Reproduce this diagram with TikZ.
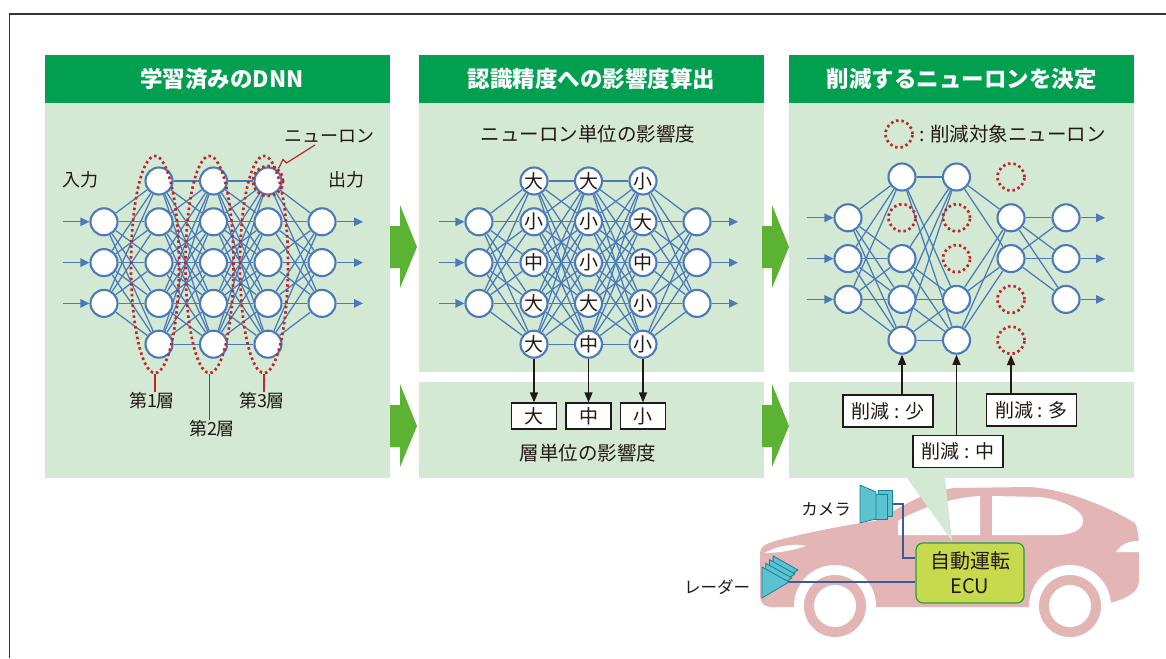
\documentclass[tikz,border=0pt]{standalone}
\usepackage{fontspec}
\setmainfont{Noto Sans CJK JP}
\usetikzlibrary{arrows.meta,shapes.geometric,calc}

\definecolor{hdrgreen}{RGB}{0,160,80}
\definecolor{panelgreen}{RGB}{211,233,211}
\definecolor{arrowgreen}{RGB}{92,178,50}
\definecolor{nnblue}{RGB}{74,122,186}
\definecolor{cutred}{RGB}{192,39,45}
\definecolor{txt}{RGB}{35,24,21}
\definecolor{carpink}{RGB}{227,181,181}
\definecolor{ecufill}{RGB}{199,217,76}
\definecolor{eculine}{RGB}{34,160,70}
\definecolor{sensor}{RGB}{92,194,208}
\definecolor{sensordark}{RGB}{20,130,150}
\definecolor{wirec}{RGB}{60,90,150}
\definecolor{framec}{RGB}{55,50,50}

\pgfdeclarelayer{back}
\pgfdeclarelayer{edges}
\pgfsetlayers{back,edges,main}

\begin{document}
\begin{tikzpicture}[x=1pt,y=-1pt,
  neuron/.style={circle,draw=nnblue,line width=2.1pt,fill=white,minimum size=27pt,
    inner sep=0pt,text=txt,font=\fontsize{19}{19}\selectfont},
  cutn/.style={circle,draw=cutred,line width=2.7pt,dash pattern=on 2.5pt off 2.9pt,
    minimum size=27pt,inner sep=0pt},
  link/.style={draw=nnblue,line width=1.25pt},
  ioarrow/.style={draw=nnblue,line width=1.2pt,-{Triangle[length=9pt,width=8.5pt]}},
  lbl/.style={text=txt,font=\fontsize{18}{18}\selectfont,inner sep=0pt},
  hdrtext/.style={text=white,font=\fontsize{22.5}{22.5}\selectfont\bfseries,inner sep=0pt},
  layerloop/.style={ellipse,draw=cutred,line width=2.7pt,dash pattern=on 2.5pt off 2.9pt,
    minimum width=48pt,minimum height=217pt,inner sep=0pt},
  redline/.style={draw=cutred,line width=1.2pt},
  blackarrow/.style={draw=txt,line width=1.3pt,-{Triangle[length=10pt,width=8pt]}},
  valbox/.style={draw=txt,line width=1.2pt,fill=white,minimum width=45pt,minimum height=26pt,
    inner sep=0pt,text=txt,font=\fontsize{19}{19}\selectfont},
  cutbox/.style={valbox,minimum width=90pt,minimum height=32pt},
  wire/.style={draw=wirec,line width=1.4pt},
  sens/.style={fill=sensor,draw=sensordark,line width=0.8pt,line join=round},
  ecu/.style={draw=eculine,line width=1.2pt,fill=ecufill,rounded corners=7pt,
    minimum width=108pt,minimum height=60pt,align=center,text=txt,
    font=\fontsize{20}{25}\selectfont}
]
\useasboundingbox (0,0) rectangle (1166,658);

% ---------- frame ----------
\draw[framec,line width=1.2pt] (9.5,658) -- (9.5,14) -- (1166,14);

% ---------- panels, headers and step arrows ----------
\begin{pgfonlayer}{back}
  \fill[hdrgreen] (45,55) rectangle (390,103);
  \fill[panelgreen] (45,103) rectangle (390,478);
  \fill[hdrgreen] (419,55) rectangle (764,103);
  \fill[panelgreen] (419,103) rectangle (764,372);
  \fill[panelgreen] (419,382) rectangle (764,478);
  \fill[hdrgreen] (789,55) rectangle (1134,103);
  \fill[panelgreen] (789,103) rectangle (1134,372);
  \fill[panelgreen] (789,382) rectangle (1134,478);
  \foreach \dx in {0,372} \foreach \dy in {0,179} {
    \fill[arrowgreen] (390+\dx,226+\dy) -- (400+\dx,226+\dy) -- (400+\dx,205+\dy)
      -- (417+\dx,247+\dy) -- (400+\dx,288+\dy) -- (400+\dx,268+\dy)
      -- (390+\dx,268+\dy) -- cycle;
  }
\end{pgfonlayer}

\node[hdrtext] (h1) at (222,79) {学習済みのDNN};
\node[hdrtext] (h2) at (591.5,79) {認識精度への影響度算出};
\node[hdrtext] (h3) at (961.5,79) {削減するニューロンを決定};

% ================= panel 1: trained DNN =================
\foreach \k in {1,2,3} {
  \node[neuron] (a-0-\k) at (104,181+40.8*\k) {};
  \node[neuron] (a-4-\k) at (322,181+40.8*\k) {};
  \coordinate (a-in-\k) at (63,181+40.8*\k);
  \coordinate (a-out-\k) at (363,181+40.8*\k);
}
\foreach \i/\x in {1/159,2/213.5,3/268}
  \foreach \k in {0,...,4}
    \node[neuron] (a-\i-\k) at (\x,181+40.8*\k) {};

\begin{pgfonlayer}{edges}
  \foreach \k in {1,2,3} {
    \draw[ioarrow] (a-in-\k) -- (a-0-\k);
    \draw[ioarrow] (a-4-\k) -- (a-out-\k);
    \foreach \m in {0,...,4} {
      \draw[link] (a-0-\k) -- (a-1-\m);
      \draw[link] (a-3-\m) -- (a-4-\k);
    }
  }
  \foreach \k in {0,...,4} \foreach \m in {0,...,4} {
    \draw[link] (a-1-\k) -- (a-2-\m);
    \draw[link] (a-2-\k) -- (a-3-\m);
  }
\end{pgfonlayer}

\node[layerloop] (e1) at (155,264.5) {};
\node[layerloop] (e2) at (209.5,264.5) {};
\node[layerloop] (e3) at (264,264.5) {};
\node[cutn,minimum size=30pt] (hl) at (a-3-0) {};

\node[lbl] (inlab) at (80,180) {入力};
\node[lbl] (outlab) at (346,180) {出力};
\node[lbl] (nlab) at (329,136) {ニューロン};
\node[lbl] (l1) at (152,401) {第1層};
\node[lbl] (l2) at (212,429) {第2層};
\node[lbl] (l3) at (262,401) {第3層};
\draw[redline] (e1.south) -- (e1.south |- l1.north);
\draw[redline] (e2.south) -- (e2.south |- l2.north);
\draw[redline] (e3.south) -- (e3.south |- l3.north);
\draw[redline] (hl.50) -- (283,159.5) -- (286.5,163) -- ([xshift=-14pt,yshift=-2pt]nlab.south);

% ================= panel 2: influence on accuracy =================
\node[lbl,font=\fontsize{19.5}{19.5}\selectfont] (t2a) at (588,134) {ニューロン単位の影響度};
\foreach \k in {1,2,3} {
  \node[neuron] (b-0-\k) at (479,181+40.8*\k) {};
  \node[neuron] (b-4-\k) at (697,181+40.8*\k) {};
  \coordinate (b-in-\k) at (439,181+40.8*\k);
  \coordinate (b-out-\k) at (738,181+40.8*\k);
}
\foreach \k/\t in {0/大,1/小,2/中,3/大,4/大}
  \node[neuron] (b-1-\k) at (534,181+40.8*\k) {\t};
\foreach \k/\t in {0/大,1/小,2/小,3/大,4/中}
  \node[neuron] (b-2-\k) at (588.5,181+40.8*\k) {\t};
\foreach \k/\t in {0/小,1/大,2/中,3/小,4/小}
  \node[neuron] (b-3-\k) at (643,181+40.8*\k) {\t};

\begin{pgfonlayer}{edges}
  \foreach \k in {1,2,3} {
    \draw[ioarrow] (b-in-\k) -- (b-0-\k);
    \draw[ioarrow] (b-4-\k) -- (b-out-\k);
    \foreach \m in {0,...,4} {
      \draw[link] (b-0-\k) -- (b-1-\m);
      \draw[link] (b-3-\m) -- (b-4-\k);
    }
  }
  \foreach \k in {0,...,4} \foreach \m in {0,...,4} {
    \draw[link] (b-1-\k) -- (b-2-\m);
    \draw[link] (b-2-\k) -- (b-3-\m);
  }
\end{pgfonlayer}

\node[valbox] (bb-1) at (534,416) {大};
\node[valbox] (bb-2) at (588.5,416) {中};
\node[valbox] (bb-3) at (643,416) {小};
\draw[blackarrow] (b-1-4) -- (bb-1);
\draw[blackarrow] (b-2-4) -- (bb-2);
\draw[blackarrow] (b-3-4) -- (bb-3);
\node[lbl,font=\fontsize{19.5}{19.5}\selectfont] (t2b) at (588,453) {層単位の影響度};

% ================= panel 3: neurons to remove =================
\node[cutn] (leg) at (899,134) {};
\node[lbl,font=\fontsize{19.5}{19.5}\selectfont,anchor=west] (legt) at ([xshift=5pt]leg.east) {: 削減対象ニューロン};

\foreach \k in {1,2,3} {
  \node[neuron] (c-0-\k) at (848,177+40.8*\k) {};
  \node[neuron] (c-4-\k) at (1066,177+40.8*\k) {};
  \coordinate (c-in-\k) at (807,177+40.8*\k);
  \coordinate (c-out-\k) at (1105,177+40.8*\k);
}
\foreach \k in {0,2,3,4} \node[neuron] (c-1-\k) at (902,177+40.8*\k) {};
\foreach \k in {1}       \node[cutn]   (c-1-\k) at (902,177+40.8*\k) {};
\foreach \k in {0,3,4}   \node[neuron] (c-2-\k) at (956.5,177+40.8*\k) {};
\foreach \k in {1,2}     \node[cutn]   (c-2-\k) at (956.5,177+40.8*\k) {};
\foreach \k in {1,2}     \node[neuron] (c-3-\k) at (1011,177+40.8*\k) {};
\foreach \k in {0,3,4}   \node[cutn]   (c-3-\k) at (1011,177+40.8*\k) {};

\begin{pgfonlayer}{edges}
  \foreach \k in {1,2,3} {
    \draw[ioarrow] (c-in-\k) -- (c-0-\k);
    \draw[ioarrow] (c-4-\k) -- (c-out-\k);
    \foreach \m in {0,2,3,4} \draw[link] (c-0-\k) -- (c-1-\m);
    \foreach \m in {1,2} \draw[link] (c-3-\m) -- (c-4-\k);
  }
  \foreach \k in {0,2,3,4} \foreach \m in {0,3,4} \draw[link] (c-1-\k) -- (c-2-\m);
  \foreach \k in {0,3,4} \foreach \m in {1,2} \draw[link] (c-2-\k) -- (c-3-\m);
\end{pgfonlayer}

\node[cutbox] (d-1) at (888,411) {削減 : 少};
\node[cutbox] (d-2) at (958,451.5) {削減 : 中};
\node[cutbox] (d-3) at (1031.5,410) {削減 : 多};
\draw[blackarrow] (d-1.north -| c-1-4) -- (c-1-4);
\draw[blackarrow] (d-2.north -| c-2-4) -- (c-2-4);
\draw[blackarrow] (d-3.north -| c-3-4) -- (c-3-4);

% ================= car with sensors and ECU =================
\fill[carpink] (770,607) .. controls (763,606) and (760,602) .. (760,596)
  -- (760,553) .. controls (760,547) and (765,544) .. (775,541)
  .. controls (805,533) and (845,525) .. (875,521)
  .. controls (900,508) and (925,490) .. (955,488)
  -- (1030,487) .. controls (1070,490) and (1110,508) .. (1135,523)
  .. controls (1139,530) and (1139,545) .. (1139,560)
  -- (1139,580) .. controls (1139,592) and (1128,598) .. (1110,603)
  -- (1100,607) -- cycle;
% side windows
\fill[white] (898,535) -- (898,521) .. controls (920,508) and (950,498) .. (980,496)
  -- (980,535) -- cycle;
\fill[white] (992,496) -- (1040,497) .. controls (1065,500) and (1085,512) .. (1083,522)
  .. controls (1082,530) and (1072,534) .. (1060,535) -- (992,535) -- cycle;
% head and tail lights
\fill[white] (764,553) .. controls (780,545) and (795,543) .. (806,546)
  .. controls (795,550) and (780,553) .. (764,553) -- cycle;
\fill[white] (1116,552) .. controls (1122,543) and (1130,541) .. (1139,541) -- (1139,552) -- cycle;
% wheel arches and wheels
\foreach \wx in {835,1070} {
  \fill[white] (\wx,606) circle (41);
  \fill[carpink] (\wx,606) circle (31);
  \fill[white] (\wx,606) circle (21);
}

% speech pointer from the decision panel
\fill[panelgreen] (907,478) -- (945,478) -- (952,541) -- cycle;

\node[ecu] (ecu) at (970,573) {自動運転\\ECU};

\coordinate (camout) at (892,504);
\coordinate (cambend) at (903,558);
\coordinate (radtip) at (786,582);
\draw[wire] (camout) -| (cambend) -- (cambend -| ecu.west);
\draw[wire] (radtip) -- (radtip -| ecu.west);

% camera
\filldraw[sens] (878,490) rectangle (892,516);
\filldraw[sens] (873,494) rectangle (887,519);
\filldraw[sens] (860,485) -- (876,492) -- (876,519) -- (860,523) -- cycle;
% radar
\foreach \i in {3,2,1,0}
  \filldraw[sens] (762+3.7*\i,567-3.7*\i) -- (789+3*\i,582-4*\i) -- (762+3.7*\i,598-3.7*\i) -- cycle;

\node[lbl,font=\fontsize{16.5}{16.5}\selectfont] (camlbl) at (826,509) {カメラ};
\node[lbl,font=\fontsize{16.5}{16.5}\selectfont] (radlbl) at (717,587) {レーダー};

\end{tikzpicture}
\end{document}
